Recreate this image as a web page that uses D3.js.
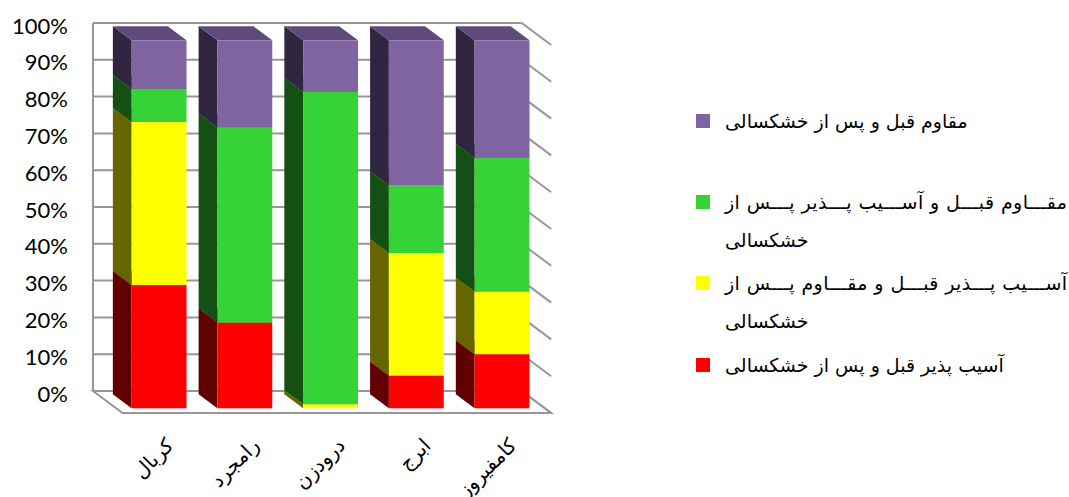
<!DOCTYPE html>
<html>
<head>
<meta charset="utf-8">
<script src="https://cdn.jsdelivr.net/npm/d3@7"></script>
<style>
  html, body { margin: 0; padding: 0; background: #fff; }
  svg { display: block; }
</style>
</head>
<body>
<svg id="chart" width="1069" height="497"></svg>
<script>
// Counties along the horizontal axis
const categories = ["کربال", "رامجرد", "درودزن", "ابرج", "کامفیروز"];

// Share of each drought-response class, percent (stacked bottom to top)
const seriesKeys = ["red", "yellow", "green", "purple"];
const redValues    = [33.5, 23.3, 0.0,  8.9, 14.7];
const yellowValues = [44.3, 0.0,  1.1, 33.3, 17.0];
const greenValues  = [9.0,  53.0, 84.9, 18.4, 36.3];
const purpleValues = [13.2, 23.7, 14.0, 39.4, 32.0];

const seriesNames = {
  red:    "آسیب پذیر قبل و پس از خشکسالی",
  yellow: "آسیب پذیر قبل و مقاوم پس از خشکسالی",
  green:  "مقاوم قبل و آسیب پذیر پس از خشکسالی",
  purple: "مقاوم قبل و پس از خشکسالی"
};

// Legend rows as laid out (justified first line, wrapped last word)
const legendOrder = ["purple", "green", "yellow", "red"];
const legendLines = {
  purple: ["مقاوم قبل و پس از خشکسالی"],
  green:  ["مقـــاوم قبـــل و آســـیب پـــذیر پـــس از", "خشکسالی"],
  yellow: ["آســـیب پـــذیر قبـــل و مقـــاوم پـــس از", "خشکسالی"],
  red:    ["آسیب پذیر قبل و پس از خشکسالی"]
};

const yTicks = [0, 10, 20, 30, 40, 50, 60, 70, 80, 90, 100];

// Face colours: front, left side, top
const palette = {
  red:    { front: "#FF0000", side: "#600000", top: "#990000" },
  yellow: { front: "#FFFF00", side: "#666600", top: "#999900" },
  green:  { front: "#35D335", side: "#144F14", top: "#207F20" },
  purple: { front: "#8064A2", side: "#312640", top: "#5E4B7B" }
};

const table = categories.map((c, i) => ({
  category: c,
  red: redValues[i], yellow: yellowValues[i], green: greenValues[i], purple: purpleValues[i]
}));

const svg = d3.select("#chart");
const persianFont = "'DejaVu Sans', sans-serif";

// Back-wall plane geometry and oblique depth vector
const wallLeft = 93, wallRight = 521.7;
const depthX = 29.5, depthY = 22;
const barFrontDepth = 0.787, barBackDepth = 0.15;

const x = d3.scaleBand().domain(categories).range([wallLeft, wallRight]).padding(0);
const barWidth = x.bandwidth() * 0.64;
const y = d3.scaleLinear().domain([0, 100]).range([391, 23]);

// project a point at back-plane (px, value) pushed forward by depth fraction f
const P = (px, v, f) => [px + depthX * f, y(v) + depthY * f];
const poly = pts => pts.map(p => p.join(",")).join(" ");

const gridColor = "#979797";

// Back wall gridlines and right wall gridlines
const grid = svg.append("g");
grid.selectAll("line.back").data(yTicks).join("line")
  .attr("x1", wallLeft).attr("x2", wallRight)
  .attr("y1", d => y(d)).attr("y2", d => y(d))
  .attr("stroke", gridColor).attr("stroke-width", 2);
grid.selectAll("line.side").data(yTicks).join("line")
  .attr("x1", wallRight).attr("y1", d => y(d))
  .attr("x2", wallRight + depthX).attr("y2", d => y(d) + depthY)
  .attr("stroke", gridColor).attr("stroke-width", 2);
grid.append("line")
  .attr("x1", wallLeft).attr("x2", wallLeft)
  .attr("y1", y(100)).attr("y2", y(0))
  .attr("stroke", gridColor).attr("stroke-width", 2);

// Floor
grid.append("polygon")
  .attr("points", poly([P(wallLeft, 0, 0), P(wallLeft, 0, 1), P(wallRight, 0, 1), P(wallRight, 0, 0)]))
  .attr("fill", "none").attr("stroke", gridColor).attr("stroke-width", 2)
  .attr("stroke-linejoin", "miter");

// Y axis labels
svg.append("g").selectAll("text").data(yTicks).join("text")
  .attr("x", 68).attr("y", d => y(d) + 2)
  .attr("text-anchor", "end").attr("dominant-baseline", "central")
  .attr("font-family", "Lato, 'Open Sans', sans-serif").attr("font-size", 22)
  .attr("fill", "#000")
  .text(d => d + "%");

// Stacked 3D bars
const stacked = d3.stack().keys(seriesKeys)(table);
const bars = svg.append("g");
categories.forEach((cat, i) => {
  const bx = x(cat) + (x.bandwidth() - barWidth) / 2;
  stacked.forEach(layer => {
    const [v0, v1] = layer[i];
    if (v1 - v0 <= 0) return;
    const col = palette[layer.key];
    const g = bars.append("g");
    // left side face
    g.append("polygon")
      .attr("points", poly([P(bx, v0, barBackDepth), P(bx, v1, barBackDepth), P(bx, v1, barFrontDepth), P(bx, v0, barFrontDepth)]))
      .attr("fill", col.side);
    // top face
    g.append("polygon")
      .attr("points", poly([P(bx, v1, barBackDepth), P(bx + barWidth, v1, barBackDepth), P(bx + barWidth, v1, barFrontDepth), P(bx, v1, barFrontDepth)]))
      .attr("fill", col.top);
    // front face
    const [fx, fyTop] = P(bx, v1, barFrontDepth);
    const fyBot = P(bx, v0, barFrontDepth)[1];
    g.append("rect")
      .attr("x", fx).attr("y", fyTop)
      .attr("width", barWidth).attr("height", fyBot - fyTop)
      .attr("fill", col.front);
  });
});

// Category labels, rotated
svg.append("g").selectAll("text").data(categories).join("text")
  .attr("transform", d => {
    const cx = x(d) + x.bandwidth() / 2 + depthX * barFrontDepth + 5;
    return `translate(${cx},${436}) rotate(-45)`;
  })
  .attr("text-anchor", "end").attr("dominant-baseline", "hanging")
  .attr("font-family", persianFont).attr("font-size", 20)
  .attr("fill", "#000")
  .text(d => d);

// Legend
const legendRows = { purple: 121, green: 202, yellow: 283, red: 365 };
const legend = svg.append("g");
legendOrder.forEach(key => {
  const cy = legendRows[key];
  legend.append("rect")
    .attr("x", 696).attr("y", cy - 7).attr("width", 14).attr("height", 14)
    .attr("fill", palette[key].front);
  legendLines[key].forEach((line, j) => {
    const t = legend.append("text")
      .attr("x", 725).attr("y", cy + j * 38)
      .attr("dominant-baseline", "central")
      .attr("text-anchor", "start")
      .attr("font-family", persianFont).attr("font-size", 19)
      .attr("fill", "#000")
      .text(line);
    // justified first line of a wrapped entry spans the full legend width
    if (legendLines[key].length > 1 && j === 0) {
      t.attr("textLength", 342).attr("lengthAdjust", "spacing");
    }
  });
});
</script>
</body>
</html>
